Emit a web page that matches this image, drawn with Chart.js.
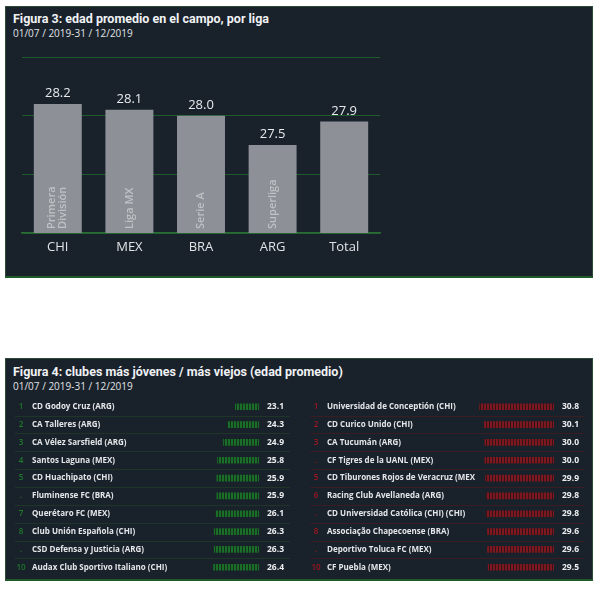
<!DOCTYPE html>
<html>
<head>
<meta charset="utf-8">
<script src="https://cdn.jsdelivr.net/npm/chart.js@4.4.1/dist/chart.umd.min.js"></script>
<style>
  body { margin: 0; width: 600px; height: 589px; background: #fff; position: relative; overflow: hidden; font-family: "Open Sans", sans-serif; }
  .panel { position: absolute; left: 5px; width: 588px; background: #19212b; border: 1px solid #2c4a36; border-bottom: 2px solid #1e5a2a; box-sizing: border-box; }
  #p1 { top: 6px; height: 272px; }
  #p2 { top: 358px; height: 223px; }
  .title { position: absolute; left: 7px; color: #f0f2f4; font-family: Roboto, sans-serif; font-weight: 700; font-size: 12.5px; line-height: 16px; white-space: nowrap; }
  .sub { position: absolute; left: 7px; color: #e0e3e6; font-size: 10px; line-height: 12px; white-space: nowrap; }
  canvas { position: absolute; }
</style>
</head>
<body>
<div class="panel" id="p1">
  <div class="title" style="top:4px">Figura 3: edad promedio en el campo, por liga</div>
  <div class="sub" style="top:20px">01/07 / 2019-31 / 12/2019</div>
</div>
<div class="panel" id="p2">
  <div class="title" style="top:5px">Figura 4: clubes más jóvenes / más viejos (edad promedio)</div>
  <div class="sub" style="top:21px">01/07 / 2019-31 / 12/2019</div>
</div>
<canvas id="leagues" width="588" height="271" style="left:5px;top:6px"></canvas>
<canvas id="young" width="280" height="188" style="left:12px;top:393px"></canvas>
<canvas id="old" width="280" height="188" style="left:307px;top:393px"></canvas>

<script>
// figura 3
const leagues = ['CHI', 'MEX', 'BRA', 'ARG', 'Total'];
const leagueNames = [['Primera', 'División'], ['Liga MX'], ['Serie A'], ['Superliga'], []];
const leagueAges = [28.2, 28.1, 28.0, 27.5, 27.9];

// figura 4
const youngRanks = ['1', '2', '3', '4', '5', '.', '7', '8', '.', '10'];
const youngClubs = ['CD Godoy Cruz (ARG)', 'CA Talleres (ARG)', 'CA Vélez Sarsfield (ARG)', 'Santos Laguna (MEX)',
  'CD Huachipato (CHI)', 'Fluminense FC (BRA)', 'Querétaro FC (MEX)', 'Club Unión Española (CHI)',
  'CSD Defensa y Justicia (ARG)', 'Audax Club Sportivo Italiano (CHI)'];
const youngAges = [23.1, 24.3, 24.9, 25.8, 25.9, 25.9, 26.1, 26.3, 26.3, 26.4];

const oldRanks = ['1', '2', '3', '.', '5', '6', '.', '8', '.', '10'];
const oldClubs = ['Universidad de Conceptión (CHI)', 'CD Curico Unido (CHI)', 'CA Tucumán (ARG)', 'CF Tigres de la UANL (MEX)',
  'CD Tiburones Rojos de Veracruz (MEX)', 'Racing Club Avellaneda (ARG)', 'CD Universidad Católica (CHI) (CHI)',
  'Associação Chapecoense (BRA)', 'Deportivo Toluca FC (MEX)', 'CF Puebla (MEX)'];
const oldAges = [30.8, 30.1, 30.0, 30.0, 29.9, 29.8, 29.8, 29.6, 29.6, 29.5];

const FONT = '"Open Sans", sans-serif';
const AXIS_MIN = 26;

const barLabels = {
  id: 'barLabels',
  afterDatasetsDraw(chart) {
    const ctx = chart.ctx;
    const meta = chart.getDatasetMeta(0);
    const base = chart.scales.y.getPixelForValue(AXIS_MIN);
    ctx.save();
    meta.data.forEach((bar, i) => {
      ctx.fillStyle = '#e8eaec';
      ctx.font = '13px ' + FONT;
      ctx.textAlign = 'center';
      ctx.textBaseline = 'bottom';
      ctx.fillText(leagueAges[i].toFixed(1), bar.x, bar.y - 4);

      const lines = leagueNames[i];
      ctx.save();
      ctx.translate(bar.x, base - 4);
      ctx.rotate(-Math.PI / 2);
      ctx.fillStyle = '#bfc2c5';
      ctx.font = '600 11px ' + FONT;
      ctx.textAlign = 'left';
      ctx.textBaseline = 'middle';
      lines.forEach((t, j) => ctx.fillText(t, 0, (j - (lines.length - 1) / 2) * 11));
      ctx.restore();
    });
    ctx.restore();
  }
};

new Chart(document.getElementById('leagues'), {
  type: 'bar',
  data: {
    labels: leagues,
    datasets: [{
      data: leagueAges,
      backgroundColor: '#8d9096',
      barPercentage: 0.67,
      categoryPercentage: 1
    }]
  },
  options: {
    responsive: false,
    animation: false,
    layout: { padding: { left: 17, right: 213, top: 51, bottom: 22 } },
    plugins: { legend: { display: false }, tooltip: { enabled: false } },
    scales: {
      x: {
        grid: { display: false, drawTicks: false },
        border: { display: true, color: '#2a6e35', width: 1.5 },
        ticks: { color: '#dfe3e6', font: { family: FONT, size: 13 }, padding: 6 },
        afterFit(s) { s.height = 22; }
      },
      y: {
        min: AXIS_MIN,
        max: 29,
        ticks: { display: false, stepSize: 1 },
        border: { display: false },
        grid: { drawTicks: false, color: '#1f5a2c', lineWidth: 1 },
        afterFit(s) { s.width = 0; }
      }
    }
  },
  plugins: [barLabels]
});

function stripes(canvas, color, gap) {
  const c = document.createElement('canvas');
  c.width = 3; c.height = 6;
  const g = c.getContext('2d');
  g.fillStyle = gap; g.fillRect(0, 0, 3, 6);
  g.fillStyle = color; g.fillRect(0, 0, 2, 6);
  return canvas.getContext('2d').createPattern(c, 'repeat');
}

function listChart(id, clubs, ages, ranks, barColor, gapColor, rankColor, lineColor) {
  const canvas = document.getElementById(id);
  const listText = {
    id: 'listText',
    beforeDatasetsDraw(chart) {
      const ctx = chart.ctx;
      const y = chart.scales.y;
      ctx.save();
      ctx.strokeStyle = lineColor;
      ctx.lineWidth = 1;
      for (let i = 0; i < clubs.length - 1; i++) {
        const yy = Math.round((y.getPixelForValue(i) + y.getPixelForValue(i + 1)) / 2) + 0.5;
        ctx.beginPath();
        ctx.moveTo(3, yy);
        ctx.lineTo(278, yy);
        ctx.stroke();
      }
      ctx.restore();
    },
    afterDatasetsDraw(chart) {
      const ctx = chart.ctx;
      const y = chart.scales.y;
      ctx.save();
      ctx.textBaseline = 'middle';
      clubs.forEach((c, i) => {
        const yy = y.getPixelForValue(i);
        ctx.fillStyle = rankColor;
        ctx.font = '600 8px ' + FONT;
        ctx.textAlign = 'center';
        ctx.fillText(ranks[i], 9, yy);
        ctx.fillStyle = '#eceef0';
        ctx.font = '700 8.5px ' + FONT;
        ctx.textAlign = 'left';
        ctx.fillText(ages[i].toFixed(1), chart.chartArea.right + 8, yy);
      });
      ctx.restore();
    }
  };
  new Chart(canvas, {
    type: 'bar',
    data: {
      labels: clubs,
      datasets: [{
        data: ages,
        backgroundColor: stripes(canvas, barColor, gapColor),
        barThickness: 6
      }]
    },
    options: {
      indexAxis: 'y',
      responsive: false,
      animation: false,
      layout: { padding: { left: 20, right: 33, top: 0, bottom: 0 } },
      plugins: { legend: { display: false }, tooltip: { enabled: false } },
      scales: {
        x: { display: false, reverse: true, min: 19.5, max: 31.5 },
        y: {
          grid: { display: false },
          border: { display: false },
          ticks: {
            crossAlign: 'far',
            autoSkip: false,
            padding: 0,
            color: '#e4e6e9',
            font: { family: FONT, size: 8, weight: '700' }
          },
          afterFit(s) { s.width = 148; }
        }
      }
    },
    plugins: [listText]
  });
}

listChart('young', youngClubs, youngAges, youngRanks, '#1b6e2a', '#15301d', '#1f7a2b', '#1f3527');
listChart('old', oldClubs, oldAges, oldRanks, '#7e1820', '#351419', '#a3161f', '#3a1c23');
</script>
</body>
</html>
